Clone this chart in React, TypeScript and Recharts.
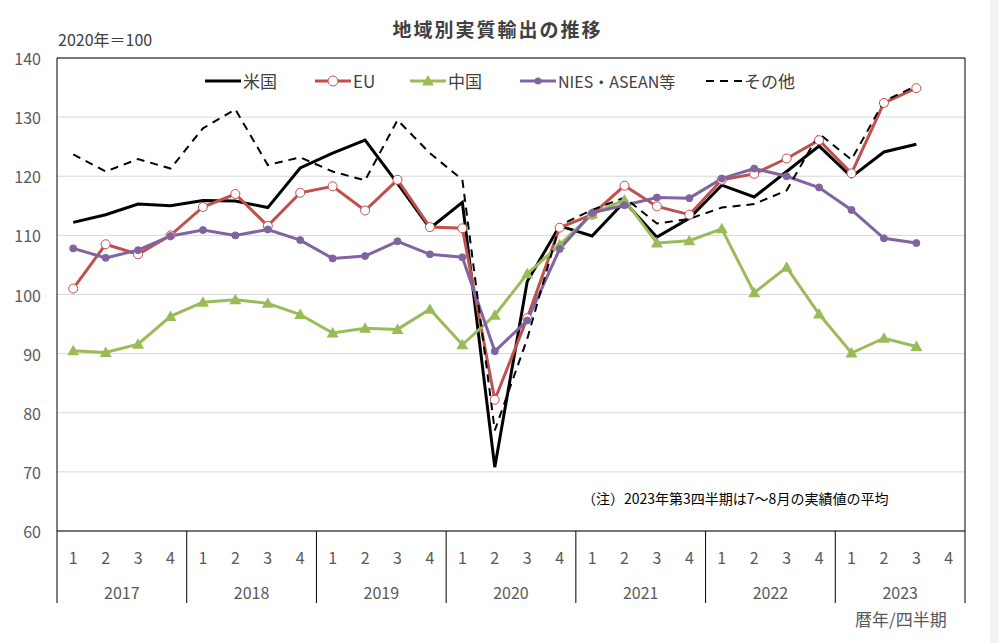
import {
  CartesianGrid,
  Legend,
  Line,
  LineChart,
  ReferenceArea,
  XAxis,
  YAxis,
} from "recharts";

const years = ["2017", "2018", "2019", "2020", "2021", "2022", "2023"];
const quarters = ["1", "2", "3", "4"];

// 2020年＝100, 2017Q1 .. 2023Q4 (2023Q4 not yet available)
const usValues = [
  112.2, 113.5, 115.3, 115.0, 115.9, 115.8, 114.7, 121.4, 123.9, 126.1, 118.8,
  111.2, 115.6, 70.8, 102.2, 111.6, 109.9, 115.7, 109.7, 112.9, 118.5, 116.5,
  120.8, 125.1, 119.9, 124.1, 125.4, null,
];
const euValues = [
  101.0, 108.5, 106.8, 110.0, 114.8, 117.0, 111.6, 117.2, 118.3, 114.2, 119.4,
  111.4, 111.2, 82.2, 96.0, 111.3, 113.5, 118.4, 114.9, 113.5, 119.4, 120.4,
  123.0, 126.1, 120.5, 132.4, 134.9, null,
];
const chinaValues = [
  90.5, 90.2, 91.6, 96.3, 98.7, 99.1, 98.5, 96.6, 93.5, 94.3, 94.1, 97.5, 91.5,
  96.5, 103.5, 108.4, 113.6, 116.0, 108.7, 109.1, 111.1, 100.3, 104.6, 96.7,
  90.1, 92.6, 91.2, null,
];
const niesValues = [
  107.8, 106.2, 107.5, 109.9, 110.9, 110.0, 111.0, 109.2, 106.1, 106.5, 109.0,
  106.8, 106.3, 90.4, 95.6, 107.7, 113.8, 115.1, 116.4, 116.3, 119.6, 121.3,
  120.0, 118.1, 114.3, 109.5, 108.7, null,
];
const otherValues = [
  123.7, 120.8, 122.9, 121.3, 128.1, 131.3, 121.9, 123.2, 120.8, 119.3, 129.5,
  123.9, 119.4, 77.0, 92.5, 111.7, 114.3, 116.4, 112.0, 112.8, 114.7, 115.3,
  117.6, 127.2, 122.8, 132.7, 135.3, null,
];

const yTicks = [60, 70, 80, 90, 100, 110, 120, 130, 140];

const rows = years.flatMap((year, yi) =>
  quarters.map((q, qi) => {
    const i = yi * 4 + qi;
    return {
      key: `${year}-${q}`,
      us: usValues[i],
      eu: euValues[i],
      china: chinaValues[i],
      nies: niesValues[i],
      other: otherValues[i],
    };
  })
);

const W = 999;
const H = 643;
const PLOT_LEFT = 57;
const PLOT_RIGHT = 965;
const PLOT_TOP = 58;
const PLOT_BOTTOM = 531;
const SLOT = (PLOT_RIGHT - PLOT_LEFT) / rows.length;

const TEXT = "#595959";
const FONT = "'Noto Sans CJK JP', 'Noto Sans', sans-serif";

const RED = "#c0504d";
const GREEN = "#9bbb59";
const PURPLE = "#8064a2";

function QuarterTick({ x, payload }: any) {
  const [year, q] = String(payload.value).split("-");
  const last = year === years[years.length - 1] && q === "4";
  return (
    <g>
      <text
        x={x}
        y={557}
        textAnchor="middle"
        dominantBaseline="central"
        fontSize={16}
        fill={TEXT}
      >
        {q}
      </text>
      {q === "1" && (
        <line
          x1={x - SLOT / 2}
          x2={x - SLOT / 2}
          y1={PLOT_BOTTOM}
          y2={603}
          stroke="#000"
        />
      )}
      {q === "2" && (
        <text
          x={x + SLOT / 2}
          y={592}
          textAnchor="middle"
          dominantBaseline="central"
          fontSize={16}
          fill={TEXT}
        >
          {year}
        </text>
      )}
      {last && (
        <line
          x1={x + SLOT / 2}
          x2={x + SLOT / 2}
          y1={PLOT_BOTTOM}
          y2={603}
          stroke="#000"
        />
      )}
    </g>
  );
}

function ValueTick({ y, payload }: any) {
  return (
    <text
      x={41}
      y={y}
      textAnchor="end"
      dominantBaseline="central"
      fontSize={16}
      fill={TEXT}
    >
      {payload.value}
    </text>
  );
}

function Triangle({ cx, cy }: any) {
  if (cx == null || cy == null) return null;
  return (
    <polygon
      points={`${cx},${cy - 6} ${cx - 6},${cy + 4.5} ${cx + 6},${cy + 4.5}`}
      fill={GREEN}
    />
  );
}

const legendItems = [
  { name: "米国", left: 205, kind: "us" },
  { name: "EU", left: 315, kind: "eu" },
  { name: "中国", left: 410, kind: "china" },
  { name: "NIES・ASEAN等", left: 520, kind: "nies" },
  { name: "その他", left: 706, kind: "other" },
];

function LegendSample({ kind }: { kind: string }) {
  return (
    <svg width={36} height={20} style={{ display: "block" }}>
      {kind === "us" && (
        <line x1={0} x2={36} y1={10} y2={10} stroke="#000" strokeWidth={3} />
      )}
      {kind === "eu" && (
        <>
          <line x1={0} x2={36} y1={10} y2={10} stroke={RED} strokeWidth={3} />
          <circle cx={18} cy={10} r={5} fill="#fff" stroke={RED} />
        </>
      )}
      {kind === "china" && (
        <>
          <line x1={0} x2={36} y1={10} y2={10} stroke={GREEN} strokeWidth={3} />
          <Triangle cx={18} cy={10} />
        </>
      )}
      {kind === "nies" && (
        <>
          <line x1={0} x2={36} y1={10} y2={10} stroke={PURPLE} strokeWidth={3} />
          <circle cx={18} cy={10} r={3.5} fill={PURPLE} />
        </>
      )}
      {kind === "other" && (
        <line
          x1={0}
          x2={36}
          y1={10}
          y2={10}
          stroke="#000"
          strokeWidth={2}
          strokeDasharray="8 6"
        />
      )}
    </svg>
  );
}

function ChartLegend() {
  return (
    <div style={{ position: "relative", width: W, height: 26 }}>
      {legendItems.map((item) => (
        <div
          key={item.kind}
          style={{
            position: "absolute",
            left: item.left,
            top: 0,
            display: "flex",
            alignItems: "center",
            gap: 2,
            fontSize: item.kind === "nies" ? 16 : 17,
            color: "#404040",
            lineHeight: "26px",
            whiteSpace: "nowrap",
          }}
        >
          <LegendSample kind={item.kind} />
          <span>{item.name}</span>
        </div>
      ))}
    </div>
  );
}

export default function App() {
  return (
    <div
      style={{
        position: "absolute",
        left: 0,
        top: 0,
        width: W,
        height: H,
        background: "#fff",
        fontFamily: FONT,
        overflow: "hidden",
      }}
    >
      <div
        style={{
          position: "absolute",
          left: 0,
          top: 15,
          width: W - 4,
          textAlign: "center",
          fontSize: 19,
          fontWeight: 600,
          letterSpacing: 2,
          color: "#404040",
        }}
      >
        地域別実質輸出の推移
      </div>
      <div
        style={{
          position: "absolute",
          left: 58,
          top: 27,
          fontSize: 16,
          color: "#404040",
        }}
      >
        2020年＝100
      </div>

      <LineChart
        width={W}
        height={H}
        data={rows}
        margin={{ top: PLOT_TOP, right: W - PLOT_RIGHT, bottom: 0, left: 0 }}
      >
        <CartesianGrid stroke="#d9d9d9" vertical={false} />
        <XAxis
          dataKey="key"
          scale="band"
          interval={0}
          height={H - PLOT_BOTTOM}
          axisLine={false}
          tickLine={false}
          tick={<QuarterTick />}
        />
        <YAxis
          domain={[60, 140]}
          ticks={yTicks}
          width={PLOT_LEFT}
          axisLine={false}
          tickLine={false}
          tick={<ValueTick />}
        />
        <ReferenceArea
          y1={60}
          y2={140}
          fill="none"
          fillOpacity={0}
          stroke="#000"
          strokeWidth={1}
          ifOverflow="visible"
        />
        <Legend
          verticalAlign="middle"
          align="center"
          layout="horizontal"
          wrapperStyle={{ left: 0, top: 68, width: W, height: 26 }}
          content={() => <ChartLegend />}
        />
        <Line
          dataKey="us"
          name="米国"
          stroke="#000"
          strokeWidth={3}
          dot={false}
          isAnimationActive={false}
        />
        <Line
          dataKey="eu"
          name="EU"
          stroke={RED}
          strokeWidth={3}
          dot={{ r: 4.5, fill: "#fff", stroke: RED, strokeWidth: 1 }}
          isAnimationActive={false}
        />
        <Line
          dataKey="china"
          name="中国"
          stroke={GREEN}
          strokeWidth={3}
          dot={<Triangle />}
          isAnimationActive={false}
        />
        <Line
          dataKey="nies"
          name="NIES・ASEAN等"
          stroke={PURPLE}
          strokeWidth={3}
          dot={{ r: 3.5, fill: PURPLE, stroke: PURPLE, strokeWidth: 1 }}
          isAnimationActive={false}
        />
        <Line
          dataKey="other"
          name="その他"
          stroke="#000"
          strokeWidth={2}
          strokeDasharray="8 6"
          dot={false}
          isAnimationActive={false}
        />
      </LineChart>

      <div
        style={{
          position: "absolute",
          left: 582,
          top: 488,
          fontSize: 14,
          color: "#000",
          whiteSpace: "nowrap",
        }}
      >
        （注）2023年第3四半期は7～8月の実績値の平均
      </div>
      <div
        style={{
          position: "absolute",
          left: 855,
          top: 606,
          fontSize: 17,
          color: TEXT,
        }}
      >
        暦年/四半期
      </div>
      <div
        style={{
          position: "absolute",
          left: 990,
          top: 0,
          width: 9,
          height: H,
          background: "#f3f3f3",
        }}
      />
    </div>
  );
}
